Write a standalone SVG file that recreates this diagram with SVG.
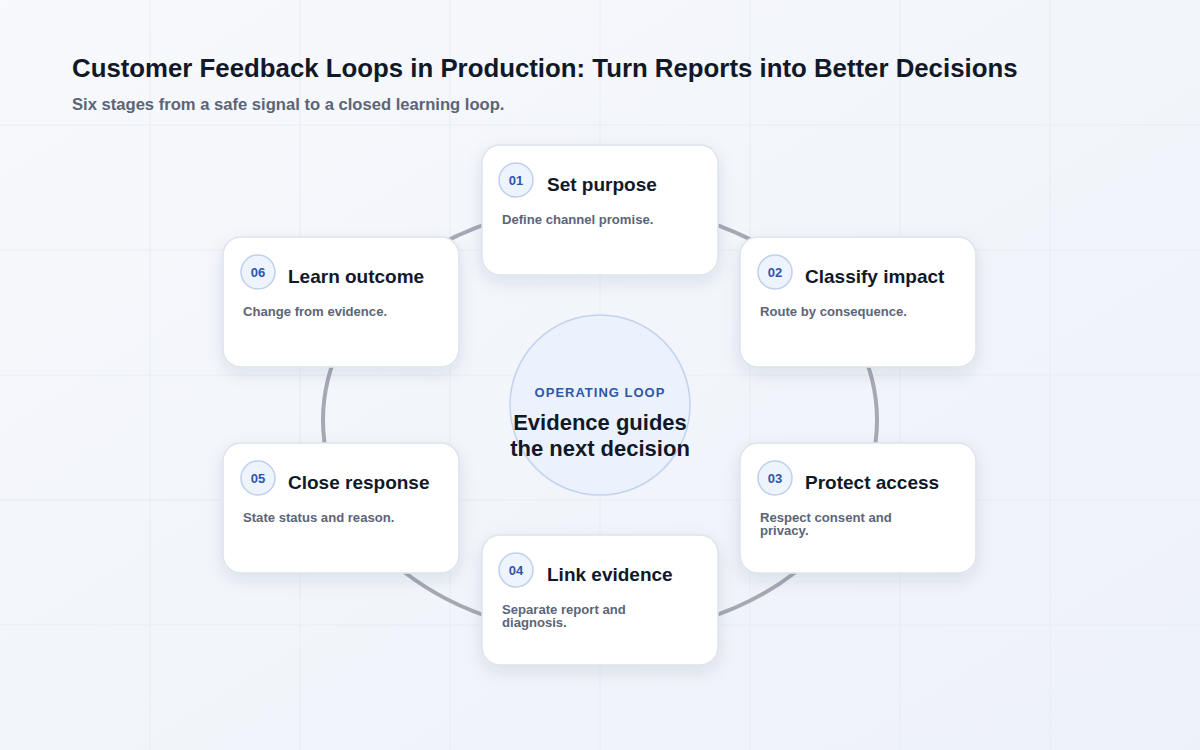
<svg xmlns="http://www.w3.org/2000/svg" width="1200" height="750" viewBox="0 0 1200 750">
<defs>
<linearGradient id="bg" x1="0" y1="0" x2="1" y2="1">
<stop offset="0" stop-color="#f7f9fc"/>
<stop offset="1" stop-color="#edf1f9"/>
</linearGradient>
<filter id="sh" x="-20%" y="-20%" width="140%" height="150%">
<feDropShadow dx="0" dy="6" stdDeviation="8" flood-color="#1e2a4a" flood-opacity="0.10"/>
</filter>
<style>
.grid{stroke:#e8ecf3;stroke-width:1}
.card{fill:#ffffff;stroke:#dde3ec;stroke-width:1.5;filter:url(#sh)}
.badge{fill:#eef4fe;stroke:#bfd0ec;stroke-width:1.5}
.num{font-family:"Liberation Sans",Arial,sans-serif;font-weight:700;font-size:13px;fill:#2f56a8;text-anchor:middle}
.ttl{font-family:"Liberation Sans",Arial,sans-serif;font-weight:700;font-size:19px;fill:#111827}
.dsc{font-family:"Liberation Sans",Arial,sans-serif;font-weight:700;font-size:13.1px;fill:#5b6577}
</style>
</defs>
<rect width="1200" height="750" fill="url(#bg)"/>
<g class="grid">
<line x1="150" y1="0" x2="150" y2="750"/><line x1="300" y1="0" x2="300" y2="750"/><line x1="450" y1="0" x2="450" y2="750"/><line x1="600" y1="0" x2="600" y2="750"/><line x1="750" y1="0" x2="750" y2="750"/><line x1="900" y1="0" x2="900" y2="750"/><line x1="1050" y1="0" x2="1050" y2="750"/>
<line x1="0" y1="125" x2="1200" y2="125"/><line x1="0" y1="250" x2="1200" y2="250"/><line x1="0" y1="375" x2="1200" y2="375"/><line x1="0" y1="500" x2="1200" y2="500"/><line x1="0" y1="625" x2="1200" y2="625"/>
</g>
<text x="72" y="77" font-family="Liberation Sans, Arial, sans-serif" font-weight="700" font-size="25.8" fill="#111827">Customer Feedback Loops in Production: Turn Reports into Better Decisions</text>
<text x="72" y="110" font-family="Liberation Sans, Arial, sans-serif" font-weight="700" font-size="16.6" fill="#5b6577">Six stages from a safe signal to a closed learning loop.</text>
<g id="connectors">
<ellipse cx="600" cy="420" rx="277" ry="215" fill="none" stroke="#a4a9b4" stroke-width="4"/>
</g>
<g id="center">
<circle cx="600" cy="405" r="90" fill="#ecf2fd" stroke="#c3d3ef" stroke-width="1.5"/>
<text x="600" y="397" text-anchor="middle" font-family="Liberation Sans, Arial, sans-serif" font-weight="700" font-size="13" letter-spacing="1" fill="#2f56a8">OPERATING LOOP</text>
<text x="600" y="430" text-anchor="middle" font-family="Liberation Sans, Arial, sans-serif" font-weight="700" font-size="22" fill="#111827">Evidence guides</text>
<text x="600" y="456" text-anchor="middle" font-family="Liberation Sans, Arial, sans-serif" font-weight="700" font-size="22" fill="#111827">the next decision</text>
</g>
<g id="stage01" transform="translate(482,145)">
<rect class="card" width="236" height="130" rx="18"/>
<circle class="badge" cx="34" cy="35" r="17"/><text class="num" x="34" y="40">01</text>
<text class="ttl" x="65" y="46">Set purpose</text>
<text class="dsc" x="20" y="79">Define channel promise.</text>
</g>
<g id="stage02" transform="translate(740,237)">
<rect class="card" width="236" height="130" rx="18"/>
<circle class="badge" cx="35" cy="35" r="17"/><text class="num" x="35" y="40">02</text>
<text class="ttl" x="65" y="46">Classify impact</text>
<text class="dsc" x="20" y="79">Route by consequence.</text>
</g>
<g id="stage03" transform="translate(740,443)">
<rect class="card" width="236" height="130" rx="18"/>
<circle class="badge" cx="35" cy="35" r="17"/><text class="num" x="35" y="40">03</text>
<text class="ttl" x="65" y="46">Protect access</text>
<text class="dsc" x="20" y="79">Respect consent and</text>
<text class="dsc" x="20" y="92">privacy.</text>
</g>
<g id="stage04" transform="translate(482,535)">
<rect class="card" width="236" height="130" rx="18"/>
<circle class="badge" cx="34" cy="35" r="17"/><text class="num" x="34" y="40">04</text>
<text class="ttl" x="65" y="46">Link evidence</text>
<text class="dsc" x="20" y="79">Separate report and</text>
<text class="dsc" x="20" y="92">diagnosis.</text>
</g>
<g id="stage05" transform="translate(223,443)">
<rect class="card" width="236" height="130" rx="18"/>
<circle class="badge" cx="35" cy="35" r="17"/><text class="num" x="35" y="40">05</text>
<text class="ttl" x="65" y="46">Close response</text>
<text class="dsc" x="20" y="79">State status and reason.</text>
</g>
<g id="stage06" transform="translate(223,237)">
<rect class="card" width="236" height="130" rx="18"/>
<circle class="badge" cx="35" cy="35" r="17"/><text class="num" x="35" y="40">06</text>
<text class="ttl" x="65" y="46">Learn outcome</text>
<text class="dsc" x="20" y="79">Change from evidence.</text>
</g>
</svg>
